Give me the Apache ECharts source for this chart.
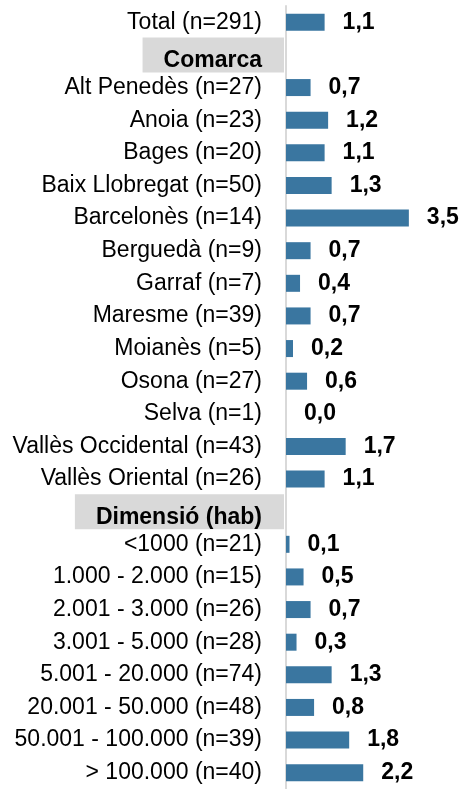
<!DOCTYPE html>
<html>
<head>
<meta charset="utf-8">
<script src="https://cdn.jsdelivr.net/npm/echarts@6/dist/echarts.min.js"></script>
<style>
  html, body { margin: 0; padding: 0; background: #fff; }
  #chart { width: 464px; height: 789px; }
</style>
</head>
<body>
<div id="chart"></div>
<script>
// rows top to bottom, header rows have no value
let categories = [
  'Total (n=291)',
  'Comarca',
  'Alt Penedès (n=27)',
  'Anoia (n=23)',
  'Bages (n=20)',
  'Baix Llobregat (n=50)',
  'Barcelonès (n=14)',
  'Berguedà (n=9)',
  'Garraf (n=7)',
  'Maresme (n=39)',
  'Moianès (n=5)',
  'Osona (n=27)',
  'Selva (n=1)',
  'Vallès Occidental (n=43)',
  'Vallès Oriental (n=26)',
  'Dimensió (hab)',
  '<1000 (n=21)',
  '1.000 - 2.000 (n=15)',
  '2.001 - 3.000 (n=26)',
  '3.001 - 5.000 (n=28)',
  '5.001 - 20.000 (n=74)',
  '20.001 - 50.000 (n=48)',
  '50.001 - 100.000 (n=39)',
  '> 100.000 (n=40)'
]
let headers = ['Comarca', 'Dimensió (hab)']
let values = [
  1.1,
  '-',
  0.7, 1.2, 1.1, 1.3, 3.5, 0.7, 0.4, 0.7, 0.2, 0.6, 0.0, 1.7, 1.1,
  '-',
  0.1, 0.5, 0.7, 0.3, 1.3, 0.8, 1.8, 2.2
]

let font = "'Liberation Sans', Arial, sans-serif"
let chart = echarts.init(document.getElementById('chart'))

chart.setOption({
  animation: false,
  grid: { left: 286, right: 6, top: 6, bottom: -2 },
  xAxis: {
    type: 'value',
    min: 0,
    max: 4.9,
    show: false
  },
  yAxis: {
    type: 'category',
    inverse: true,
    data: categories,
    offset: 2,
    axisTick: { show: false },
    axisLine: { lineStyle: { color: '#d9d9d9', width: 2 } },
    axisLabel: {
      margin: 0,
      interval: 0,
      formatter: v => headers.indexOf(v) >= 0 ? '{h|' + v + '}' : '{n|' + v + '}',
      rich: {
        n: {
          fontFamily: font,
          fontSize: 23,
          color: '#000',
          padding: [0, 22, 0, 0]
        },
        h: {
          fontFamily: font,
          fontSize: 23,
          fontWeight: 'bold',
          color: '#000',
          lineHeight: 26,
          backgroundColor: '#d9d9d9',
          padding: [12, 22, 0, 21]
        }
      }
    }
  },
  series: [{
    type: 'bar',
    data: values,
    barWidth: 17,
    itemStyle: { color: '#3A76A0' },
    label: {
      show: true,
      position: 'right',
      distance: 18,
      fontFamily: font,
      fontSize: 23,
      fontWeight: 'bold',
      color: '#000',
      formatter: p => Number(p.value).toFixed(1).replace('.', ',')
    }
  }]
})
</script>
</body>
</html>
